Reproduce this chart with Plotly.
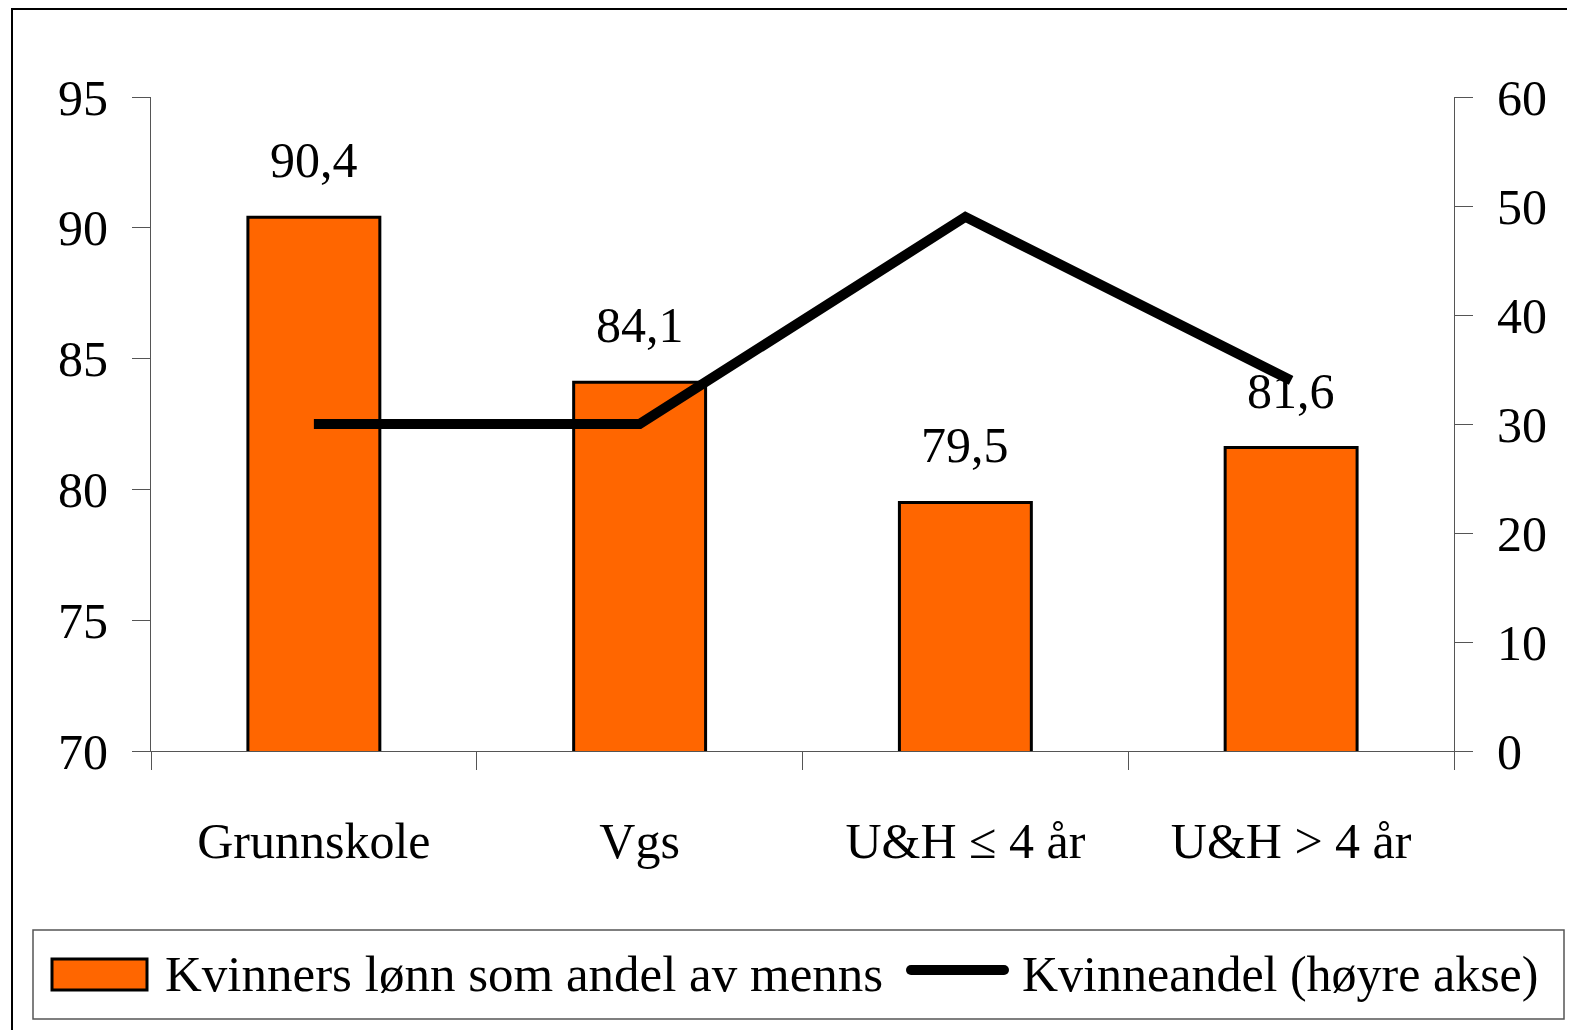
import plotly.graph_objects as go

categories = ["Grunnskole", "Vgs", "U&H \u2264 4 år", "U&H > 4 år"]
lonn_andel = [90.4, 84.1, 79.5, 81.6]
kvinneandel = [30, 30, 49, 34]
left_ticks = [70, 75, 80, 85, 90, 95]
right_ticks = [0, 10, 20, 30, 40, 50, 60]
legend_labels = ["Kvinners lønn som andel av menns", "Kvinneandel (høyre akse)"]

# page is rendered with an 8px body margin; compensate
OFF = 8
PAGE_W, PAGE_H = 1575, 1030
W, H = PAGE_W - OFF, PAGE_H - OFF
# plot area in page coordinates
L, R, T, B = 151, 1454, 97, 751
FONT = "Liberation Serif, Times New Roman, serif"
ORANGE = "#FF6600"


def px(x):
    return (x - L) / (R - L)


def py(y):
    return (B - y) / (B - T)


fig = go.Figure()
fig.add_trace(go.Bar(
    x=categories, y=lonn_andel, name=legend_labels[0],
    marker=dict(color=ORANGE, line=dict(color="black", width=3)),
    yaxis="y", showlegend=False,
))
fig.add_trace(go.Scatter(
    x=categories, y=kvinneandel, name=legend_labels[1], mode="lines",
    line=dict(color="black", width=10), yaxis="y2", showlegend=False,
))

for c, v in zip(categories, lonn_andel):
    fig.add_annotation(x=c, y=v, xref="x", yref="y", text=f"{v:.1f}".replace(".", ","),
                       showarrow=False, yanchor="middle", yshift=57,
                       font=dict(family=FONT, size=50, color="black"))

axis_common = dict(
    showgrid=False, zeroline=False, ticks="outside", ticklen=18, tickwidth=1,
    tickcolor="#555555", linecolor="#555555", linewidth=1, showline=True,
    tickfont=dict(family=FONT, size=50, color="black"),
)

fig.update_layout(
    width=W, height=H,
    margin=dict(l=L - OFF, r=W - (R - OFF), t=T - OFF, b=H - (B - OFF), pad=0),
    paper_bgcolor="white", plot_bgcolor="white",
    bargap=0.595,
    showlegend=False,
    xaxis=dict(
        **axis_common, tickson="boundaries", ticklabelstandoff=46,
    ),
    yaxis=dict(
        **axis_common, range=[70, 95], tickvals=left_ticks, ticklabelstandoff=14,
    ),
    yaxis2=dict(
        **axis_common, range=[0, 60], tickvals=right_ticks, overlaying="y",
        side="right", ticklabelstandoff=14,
    ),
)

# outer border (only top/left visible)
fig.add_shape(type="rect", xref="paper", yref="paper",
              x0=px(12), x1=px(1600), y0=py(1060), y1=py(9),
              line=dict(color="black", width=2), fillcolor="rgba(0,0,0,0)", layer="below")

# legend box
fig.add_shape(type="rect", xref="paper", yref="paper",
              x0=px(33), x1=px(1564), y0=py(1019), y1=py(930),
              line=dict(color="#555555", width=1.5), fillcolor="white")
fig.add_shape(type="rect", xref="paper", yref="paper",
              x0=px(52), x1=px(147), y0=py(990), y1=py(959),
              line=dict(color="black", width=3), fillcolor=ORANGE)
fig.add_shape(type="line", xref="paper", yref="paper",
              x0=px(911), x1=px(1004), y0=py(970), y1=py(970),
              line=dict(color="black", width=10))
for cx in (911, 1004):
    fig.add_shape(type="circle", xref="paper", yref="paper",
                  x0=px(cx - 5), x1=px(cx + 5), y0=py(975), y1=py(965),
                  line=dict(width=0), fillcolor="black")
fig.add_annotation(xref="paper", yref="paper", x=px(163), y=py(974), xanchor="left",
                   yanchor="middle", text=legend_labels[0], showarrow=False,
                   font=dict(family=FONT, size=51, color="black"))
fig.add_annotation(xref="paper", yref="paper", x=px(1020), y=py(974), xanchor="left",
                   yanchor="middle", text=legend_labels[1], showarrow=False,
                   font=dict(family=FONT, size=50, color="black"))

fig.write_html("out.html")
